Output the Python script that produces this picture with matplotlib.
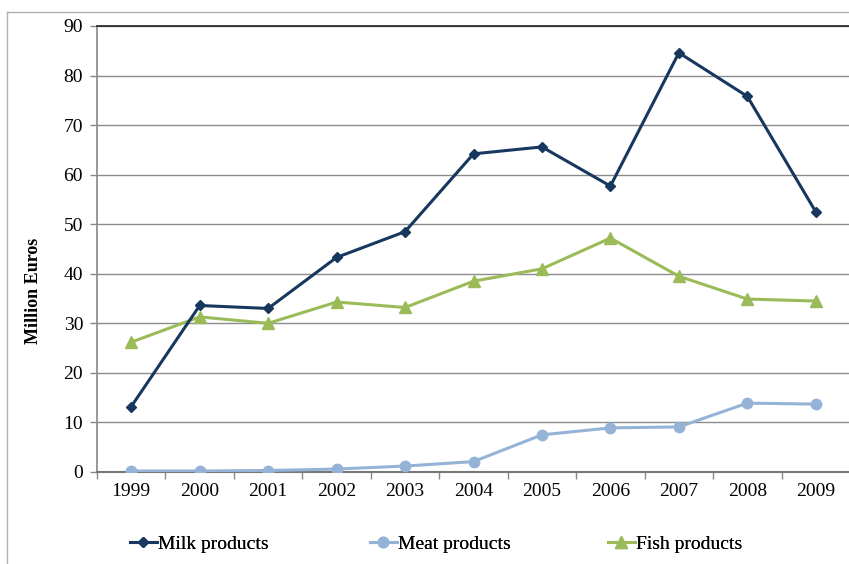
import matplotlib
matplotlib.use("Agg")
import matplotlib.pyplot as plt
from matplotlib.lines import Line2D
import numpy as np

years = ["1999", "2000", "2001", "2002", "2003", "2004", "2005", "2006", "2007", "2008", "2009"]
milk = [13.2, 33.6, 33.0, 43.3, 48.5, 64.2, 65.6, 57.7, 84.6, 75.8, 52.5]
meat = [0.2, 0.2, 0.3, 0.6, 1.2, 2.1, 7.5, 8.9, 9.1, 13.9, 13.7]
fish = [26.2, 31.3, 30.0, 34.3, 33.2, 38.5, 41.0, 47.2, 39.5, 34.9, 34.5]
y_ticks = [0, 10, 20, 30, 40, 50, 60, 70, 80, 90]

plt.rcParams["font.family"] = ["Liberation Serif", "DejaVu Serif"]

W, H = 849, 564
fig = plt.figure(figsize=(W / 100, H / 100), dpi=100)
ax = fig.add_axes([97 / W, 1 - 472 / H, (850 - 97) / W, (472 - 26) / H])

x = np.arange(len(years))
c_milk, c_meat, c_fish = "#17375E", "#95B3D7", "#9BBB59"
l1, = ax.plot(x, milk, color=c_milk, lw=2.2, marker="D", ms=5.5, zorder=5, label="Milk products")
l2, = ax.plot(x, meat, color=c_meat, lw=2.2, marker="o", ms=7.5, zorder=4, label="Meat products")
l3, = ax.plot(x, fish, color=c_fish, lw=2.2, marker="^", ms=8, zorder=4, label="Fish products")

ax.set_xlim(-0.5, len(years) - 0.5)
ax.set_ylim(0, 90)
ax.set_yticks(y_ticks)
ax.set_yticklabels([str(v) for v in y_ticks], fontsize=14)
ax.set_xticks(x)
ax.set_xticklabels(years, fontsize=14)
ax.tick_params(axis="x", which="major", length=0, pad=8)
ax.set_xticks(np.arange(-0.5, len(years), 1.0), minor=True)
ax.tick_params(axis="x", which="minor", length=5, color="#888888", width=1)
ax.tick_params(axis="y", length=5, color="#888888", width=1, pad=5)

ax.grid(axis="y", color="#8c8c8c", lw=1)
ax.set_axisbelow(True)
ax.spines["right"].set_visible(False)
ax.spines["top"].set_color("#222222")
ax.spines["top"].set_linewidth(1.2)
ax.spines["left"].set_color("#888888")
ax.spines["left"].set_linewidth(1.2)
ax.spines["bottom"].set_color("#777777")
ax.spines["bottom"].set_linewidth(1.5)

fig.text(33 / W, 1 - 291 / H, "Million Euros", rotation=90, ha="center", va="center",
         fontsize=13, fontweight="bold")

# outer chart frame (top and left edges)
fig.add_artist(Line2D([7 / W, 1], [1 - 12 / H, 1 - 12 / H], color="#b0b0b0", lw=1))
fig.add_artist(Line2D([7 / W, 7 / W], [0, 1 - 12 / H], color="#b0b0b0", lw=1))

# legend entries placed along the bottom
for handle, left in [(l1, 124), (l2, 364), (l3, 602)]:
    leg = fig.legend([handle], [handle.get_label()], loc="center left",
                     bbox_to_anchor=(left / W, 1 - 544 / H), frameon=False, fontsize=14,
                     handlelength=1.4, handletextpad=0.05, borderaxespad=0, borderpad=0.3)
    fig.add_artist(leg)

fig.savefig("out.png", dpi=100)
